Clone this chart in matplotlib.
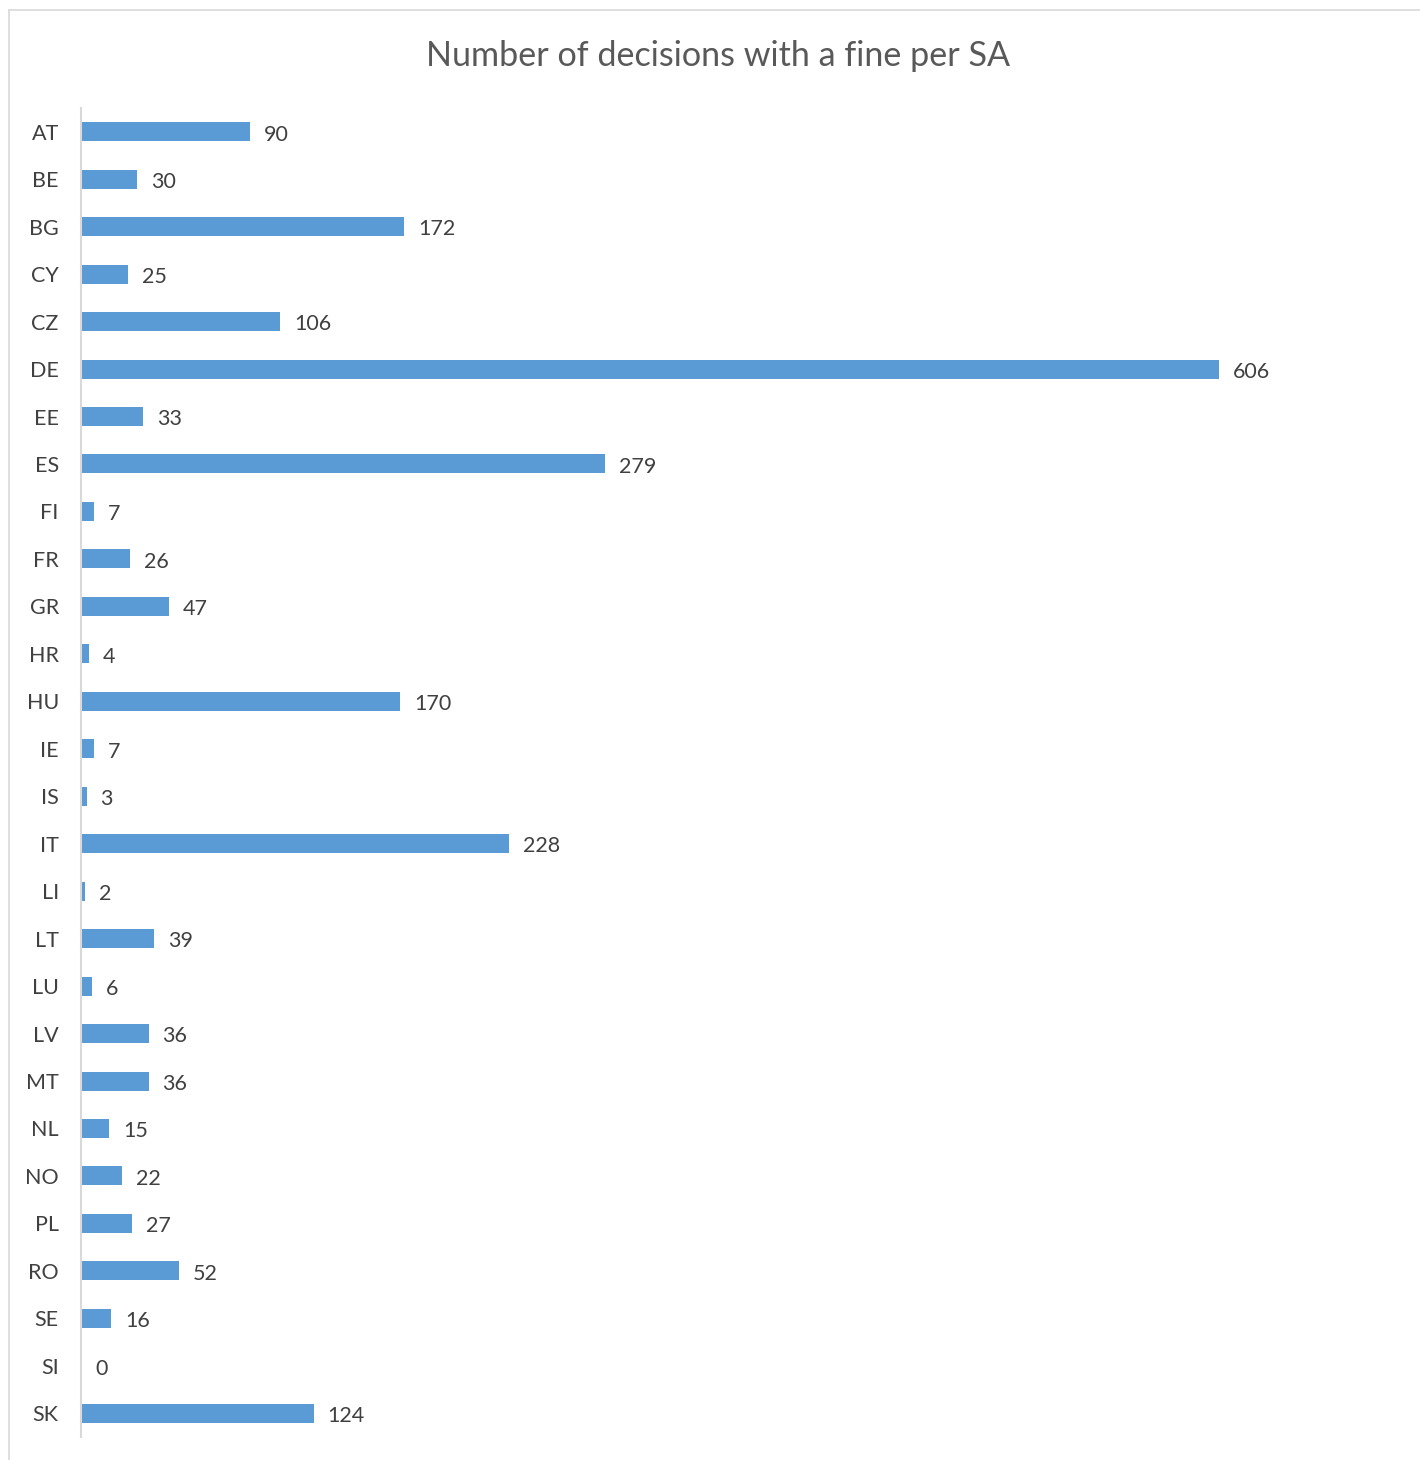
import matplotlib
matplotlib.use("Agg")
import matplotlib.pyplot as plt
from matplotlib.lines import Line2D

countries = ["AT", "BE", "BG", "CY", "CZ", "DE", "EE", "ES", "FI", "FR", "GR", "HR", "HU", "IE",
             "IS", "IT", "LI", "LT", "LU", "LV", "MT", "NL", "NO", "PL", "RO", "SE", "SI", "SK"]
values = [90, 30, 172, 25, 106, 606, 33, 279, 7, 26, 47, 4, 170, 7,
          3, 228, 2, 39, 6, 36, 36, 15, 22, 27, 52, 16, 0, 124]
title = "Number of decisions with a fine per SA"

plt.rcParams['font.family'] = ['Lato', 'DejaVu Sans']

W, H = 1420, 1460
fig = plt.figure(figsize=(W / 100, H / 100), dpi=100)
fig.patch.set_facecolor("white")

# chart frame (left and top visible)
fig.add_artist(Line2D([9 / W, 9 / W], [0, 1 - 10 / H], transform=fig.transFigure, color="#D9D9D9", lw=1.2))
fig.add_artist(Line2D([9 / W, 1], [1 - 10 / H, 1 - 10 / H], transform=fig.transFigure, color="#D9D9D9", lw=1.2))

left, right = 81 / W, (81 + 700 * 1.878) / W
top, bottom = 1 - 108 / H, 1 - 1437 / H
ax = fig.add_axes([left, bottom, right - left, top - bottom])
ypos = list(range(len(countries)))
ax.barh(ypos, values, height=0.4, color="#5B9BD5")
ax.set_ylim(len(countries) - 0.5, -0.5)
ax.set_xlim(0, 700)
ax.set_yticks(ypos)
ax.set_yticklabels(countries, fontsize=15.5, color="#404040")
ax.tick_params(axis="y", length=0, pad=16)
for lab in ax.get_yticklabels():
    lab.set_y(lab.get_position()[1])
ax.set_xticks([])
for s in ["top", "right", "bottom"]:
    ax.spines[s].set_visible(False)
ax.spines["left"].set_color("#D9D9D9")
ax.spines["left"].set_linewidth(1.5)

for y, v in zip(ypos, values):
    ax.annotate(str(v), (v, y), xytext=(10, -2), textcoords="offset points",
                ha="left", va="center", fontsize=15.5, color="#404040")

fig.text((425 + 1011) / 2 / W, 1 - 56 / H, title, ha="center", va="center",
         fontsize=24.6, color="#595959")

fig.savefig("out.png", dpi=100, facecolor="white")
